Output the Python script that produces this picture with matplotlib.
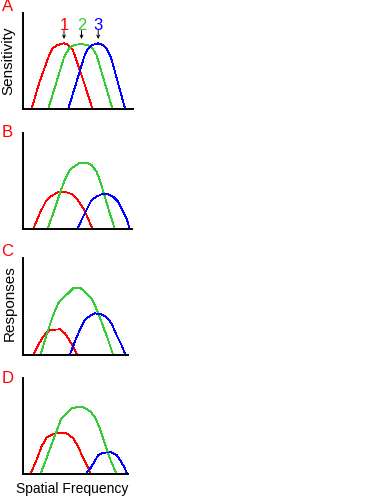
import matplotlib
matplotlib.use('Agg')
import matplotlib.pyplot as plt

plt.rcParams['font.family'] = ['Liberation Sans', 'DejaVu Sans']

RED = '#ff0000'
GREEN = '#33cc33'
BLUE = '#0000ff'

# curves (x: spatial frequency, y: sensitivity / response)
a_red_x = [9, 17, 26, 30, 35, 41, 45, 50, 53.3, 62, 70]
a_red_y = [0, 27, 52, 60.7, 64, 65.7, 64.7, 59.7, 50.7, 25, 0]
a_green_x = [25.7, 34, 41.7, 46.7, 51.7, 58.3, 65, 70, 74, 82, 90]
a_green_y = [0, 27, 52.3, 60.7, 64, 65, 64, 60.7, 54, 27, 0]
a_blue_x = [45.7, 54, 61.7, 65, 70, 75.7, 80, 84, 88.3, 95.5, 102.7]
a_blue_y = [0, 27, 52.3, 59.7, 64, 65.7, 64, 60.7, 52.3, 26, 0]

b_red_x = [10.7, 17.3, 24, 28, 32.3, 35.7, 44, 49, 54, 57.3, 60.7, 64, 70]
b_red_y = [0, 15.7, 29, 32.3, 35, 36.7, 36.7, 35, 30.7, 25.7, 20.7, 14, 0]
b_green_x = [25, 30.7, 37.3, 42.3, 47.3, 52.3, 57.3, 64, 69, 74, 77.3, 82.3, 87.3, 92.3]
b_green_y = [0, 15.7, 35.7, 49, 59, 63, 66.3, 66.3, 64, 57.3, 49, 32.3, 15.7, 0]
b_blue_x = [54.7, 59, 64, 69, 74, 79, 85.7, 90.7, 95.7, 100.7, 104, 107.3]
b_blue_y = [0, 9, 19, 29, 32.3, 34.7, 34.7, 32.3, 27.3, 17.3, 10.7, 0]

c_red_x = [10.7, 15.7, 20.7, 24, 28, 37.3, 42.3, 45.7, 50.7, 54.7]
c_red_y = [0, 10, 18.3, 22.3, 25, 25.7, 21.7, 16.7, 8.3, 0]
c_green_x = [18, 24, 30.7, 35.7, 40.7, 45.7, 50.7, 58.3, 64, 69, 72.3, 75.7, 80.7, 85.7, 90.7]
c_green_y = [0, 20, 40, 51.7, 57.3, 61.7, 66.7, 66.7, 61.7, 56.7, 50, 41.7, 28.3, 15, 0]
c_blue_x = [47.3, 52.3, 57.3, 62.3, 67.3, 72.3, 79, 84, 89, 94, 99, 103]
c_blue_y = [0, 13.3, 25, 35, 39, 41.7, 40.7, 37.7, 31.7, 20, 10, 0]

d_red_x = [8, 14, 19, 24, 29, 33.3, 44, 50.7, 55.7, 60.7, 65.7, 68.3]
d_red_y = [0, 14, 27.3, 36.3, 39, 40.7, 40.7, 35.7, 27.3, 15.7, 5.7, 0]
d_green_x = [18, 24, 30.7, 35.7, 39, 44, 49, 54, 60.7, 67.3, 72.3, 77.3, 82.3, 87.3, 94]
d_green_y = [0, 15.7, 34, 47.3, 55.7, 60.7, 65.7, 66.7, 66.7, 63, 57.3, 45.7, 30.7, 15.7, 0]
d_blue_x = [63.3, 69, 75.7, 80.7, 89, 94, 99, 102.3, 104.7]
d_blue_y = [0, 7.3, 19, 21.3, 21.7, 19, 11.7, 5.7, 0]

peak_labels = ['1', '2', '3']
peak_x = [41.5, 59, 75.7]
peak_colors = [RED, GREEN, BLUE]

W, H = 381, 499
fig = plt.figure(figsize=(W / 100, H / 100), dpi=100)

# axes boxes in pixels: left, top, right, bottom
boxes = [(22.5, 13, 133, 109), (22.5, 133, 132, 229),
         (22.5, 258, 128, 355), (22.5, 378, 128, 474)]
curves = [
    [(a_red_x, a_red_y, RED), (a_green_x, a_green_y, GREEN), (a_blue_x, a_blue_y, BLUE)],
    [(b_red_x, b_red_y, RED), (b_green_x, b_green_y, GREEN), (b_blue_x, b_blue_y, BLUE)],
    [(c_red_x, c_red_y, RED), (c_green_x, c_green_y, GREEN), (c_blue_x, c_blue_y, BLUE)],
    [(d_red_x, d_red_y, RED), (d_green_x, d_green_y, GREEN), (d_blue_x, d_blue_y, BLUE)],
]
letters = ['A', 'B', 'C', 'D']
letter_base = [11, 137, 256, 383]

axes = []
for (l, t, r, b), cs in zip(boxes, curves):
    ax = fig.add_axes([l / W, 1 - b / H, (r - l) / W, (b - t) / H])
    for xs, ys, col in cs:
        ax.plot(xs, ys, color=col, lw=0.6, antialiased=False, clip_on=False)
    ax.set_xlim(0, r - l)
    ax.set_ylim(0, b - t)
    ax.spines['top'].set_visible(False)
    ax.spines['right'].set_visible(False)
    for s in ('left', 'bottom'):
        ax.spines[s].set_linewidth(1.4)
        ax.spines[s].set_color('black')
    ax.set_xticks([])
    ax.set_yticks([])
    ax.patch.set_alpha(0)
    axes.append(ax)

for lab, yb in zip(letters, letter_base):
    fig.text(1.5 / W, 1 - yb / H, lab, color=RED, fontsize=12, ha='left', va='baseline')

ax = axes[0]
for lab, x, col in zip(peak_labels, peak_x, peak_colors):
    ax.text(x, 79, lab, color=col, fontsize=12, ha='center', va='baseline')
    ax.annotate('', xy=(x, 70), xytext=(x, 78.5),
                arrowprops=dict(arrowstyle='->', lw=0.7, color='black',
                                mutation_scale=5, shrinkA=0, shrinkB=0))

fig.text(8.5 / W, 1 - 60.5 / H, 'Sensitivity', rotation=90, fontsize=11,
         ha='center', va='center')
fig.text(10 / W, 1 - 303.5 / H, 'Responses', rotation=90, fontsize=11,
         ha='center', va='center')
fig.text(72 / W, 1 - 489 / H, 'Spatial Frequency', fontsize=10,
         ha='center', va='center')

fig.savefig('out.png', dpi=100, facecolor='white')
